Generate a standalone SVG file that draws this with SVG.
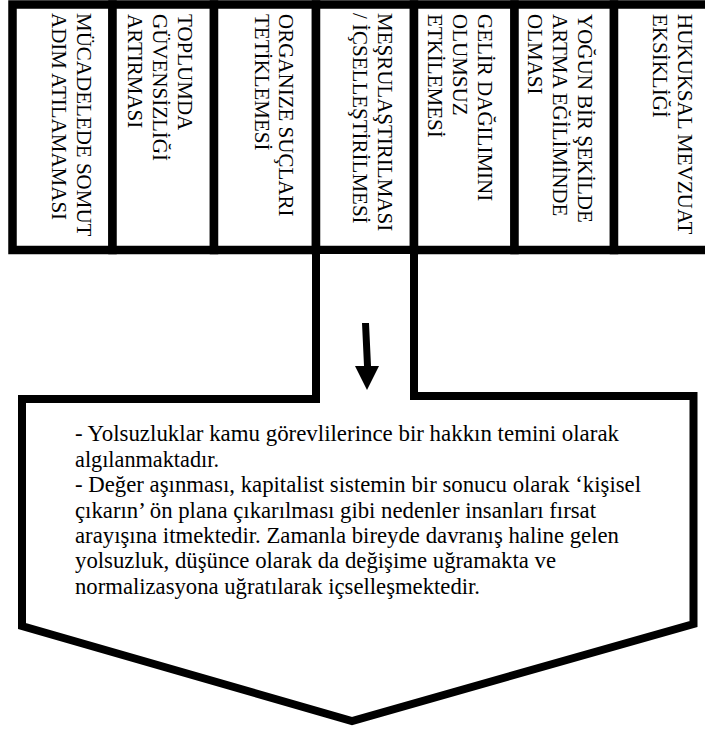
<svg xmlns="http://www.w3.org/2000/svg" width="705" height="733" viewBox="0 0 705 733">
<style>
.box{fill:#fff;stroke:#000;stroke-width:8.5;stroke-linejoin:miter}
.vt{font-family:'Liberation Serif',serif;font-size:21px;fill:#000}
.co{fill:#fff;stroke:#000;stroke-width:8;stroke-linejoin:miter}
</style>
<rect width="705" height="733" fill="#fff"/>
<g id="box1">
<rect class="box" x="12.5" y="4.5" width="100" height="245.5"/>
<text class="vt" transform="translate(77,13) rotate(90)">MÜCADELEDE SOMUT</text>
<text class="vt" transform="translate(52,13) rotate(90)">ADIM ATILAMAMASI</text>
</g>
<g id="box2">
<rect class="box" x="112.5" y="4.5" width="101.5" height="245.5"/>
<text class="vt" transform="translate(178,14) rotate(90)">TOPLUMDA</text>
<text class="vt" transform="translate(153,14) rotate(90)">GÜVENSİZLİĞİ</text>
<text class="vt" transform="translate(128,14) rotate(90)">ARTIRMASI</text>
</g>
<g id="box3">
<rect class="box" x="214" y="4.5" width="102" height="245.5"/>
<text class="vt" transform="translate(279,14) rotate(90)">ORGANIZE SUÇLARI</text>
<text class="vt" transform="translate(255,14) rotate(90)">TETİKLEMESİ</text>
</g>
<g id="box4">
<rect class="box" x="316" y="4.5" width="98" height="245.5"/>
<text class="vt" transform="translate(378,13) rotate(90)">MEŞRULAŞTIRILMASI</text>
<text class="vt" transform="translate(353,13) rotate(90)">/ İÇSELLEŞTİRİLMESİ</text>
</g>
<g id="box5">
<rect class="box" x="414" y="4.5" width="100.5" height="245.5"/>
<text class="vt" transform="translate(478,14) rotate(90)">GELİR DAĞILIMINI</text>
<text class="vt" transform="translate(453,14) rotate(90)">OLUMSUZ</text>
<text class="vt" transform="translate(428,14) rotate(90)">ETKİLEMESİ</text>
</g>
<g id="box6">
<rect class="box" x="514.5" y="4.5" width="99.5" height="245.5"/>
<text class="vt" transform="translate(578,14) rotate(90)">YOĞUN BİR ŞEKİLDE</text>
<text class="vt" transform="translate(553,14) rotate(90)">ARTMA EĞİLİMİNDE</text>
<text class="vt" transform="translate(528,14) rotate(90)">OLMASI</text>
</g>
<g id="box7">
<rect class="box" x="614" y="4.5" width="100" height="245.5"/>
<text class="vt" transform="translate(678,14) rotate(90)">HUKUKSAL MEVZUAT</text>
<text class="vt" transform="translate(653,14) rotate(90)">EKSİKLİĞİ</text>
</g>
<g id="callout">
<path class="co" d="M316,254 V399 H22 V626 L352,721 L693.5,624 V396 H414 V254"/>
<g font-family="Liberation Serif, serif" font-size="23" fill="#000" lengthAdjust="spacingAndGlyphs">
<text x="75" y="441" textLength="544" lengthAdjust="spacingAndGlyphs">- Yolsuzluklar kamu görevlilerince bir hakkın temini olarak</text>
<text x="75" y="467" textLength="144" lengthAdjust="spacingAndGlyphs">algılanmaktadır.</text>
<text x="75" y="492" textLength="566" lengthAdjust="spacingAndGlyphs">- Değer aşınması, kapitalist sistemin bir sonucu olarak ‘kişisel</text>
<text x="75" y="518" textLength="521" lengthAdjust="spacingAndGlyphs">çıkarın’ ön plana çıkarılması gibi nedenler insanları fırsat</text>
<text x="75" y="543" textLength="544" lengthAdjust="spacingAndGlyphs">arayışına itmektedir. Zamanla bireyde davranış haline gelen</text>
<text x="75" y="568" textLength="481" lengthAdjust="spacingAndGlyphs">yolsuzluk, düşünce olarak da değişime uğramakta ve</text>
<text x="75" y="594" textLength="405" lengthAdjust="spacingAndGlyphs">normalizasyona uğratılarak içselleşmektedir.</text>
</g>
</g>
<g id="connectors">
<polygon points="362,323 369,323 371,366 379,366 367,390 355,366 364,366" fill="#000"/>
</g>
</svg>
